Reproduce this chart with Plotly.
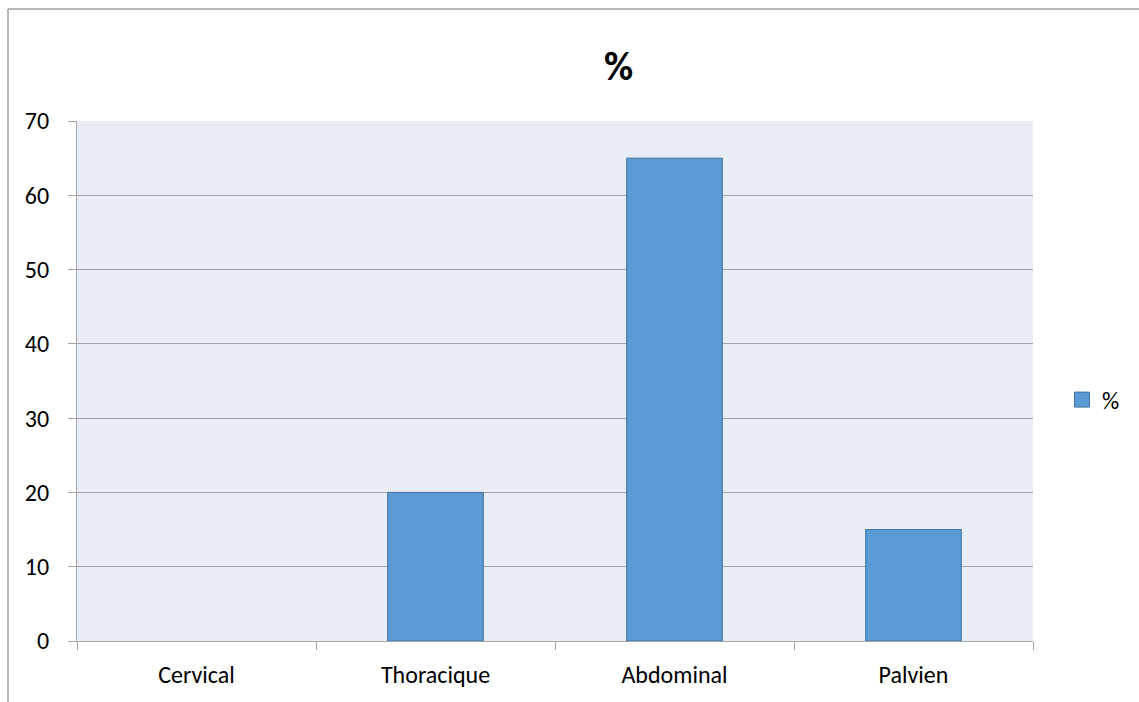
import plotly.graph_objects as go

# Data
categories = ["Cervical", "Thoracique", "Abdominal", "Palvien"]
values = [0, 20, 65, 15]
series_name = "%"
y_ticks = [0, 10, 20, 30, 40, 50, 60, 70]

W, H = 1139, 702
L, R, T, B = 77, 106, 121, 61
PW, PH = W - L - R, H - T - B

FONT = "Calibri, Carlito, Lato, sans-serif"
GRID = "#A6A6A6"
FS = 24
BAR_FILL = "#5B9BD5"
BAR_EDGE = "#41719C"


def px_x(px):
    return (px - L) / PW


def px_y(py):
    return (H - B - py) / PH


fig = go.Figure()
fig.add_trace(go.Bar(
    x=categories,
    y=values,
    name=series_name,
    width=0.4,
    marker=dict(
        color=BAR_FILL,
        line=dict(color=BAR_EDGE, width=[1 if v else 0 for v in values]),
    ),
    showlegend=False,
))
# legend key: larger square swatch for the series
fig.add_trace(go.Scatter(
    x=[None], y=[None], mode="markers", name=series_name,
    marker=dict(symbol="square", size=15, color=BAR_FILL,
                line=dict(color=BAR_EDGE, width=1)),
    showlegend=True, hoverinfo="skip",
))

fig.update_layout(
    width=W,
    height=H,
    margin=dict(l=L, r=R, t=T, b=B, pad=0),
    paper_bgcolor="white",
    plot_bgcolor="#E9EDF5",
    font=dict(family=FONT, size=FS, color="#000000"),
    showlegend=True,
    legend=dict(
        x=px_x(1062), y=px_y(400), xanchor="left", yanchor="middle",
        bgcolor="rgba(0,0,0,0)", font=dict(size=FS),
        itemwidth=30,
    ),
    xaxis=dict(
        type="category",
        range=[-0.5, 3.5],
        tickson="boundaries",
        ticks="outside",
        ticklen=8,
        tickcolor=GRID,
        showline=True,
        linecolor=GRID,
        linewidth=1,
        showgrid=False,
        zeroline=False,
        tickfont=dict(size=FS),
        ticklabelstandoff=12,
        fixedrange=True,
    ),
    yaxis=dict(
        range=[0, 70],
        tickvals=y_ticks,
        ticks="outside",
        ticklen=8,
        tickcolor=GRID,
        showline=True,
        linecolor=GRID,
        linewidth=1,
        showgrid=True,
        gridcolor=GRID,
        gridwidth=1,
        zeroline=False,
        tickfont=dict(size=FS),
        ticklabelstandoff=14,
        fixedrange=True,
    ),
    annotations=[dict(
        text="<b>%</b>", x=px_x(618), y=px_y(67), xref="paper", yref="paper",
        showarrow=False, xanchor="center", yanchor="middle",
        font=dict(size=40, family=FONT),
    )],
    shapes=[
        dict(type="line", xref="paper", yref="paper",
             x0=px_x(8), y0=px_y(9), x1=px_x(W + 5), y1=px_y(9),
             line=dict(color="#A0A0A0", width=1.5)),
        dict(type="line", xref="paper", yref="paper",
             x0=px_x(8), y0=px_y(9), x1=px_x(8), y1=px_y(H + 5),
             line=dict(color="#A0A0A0", width=1.5)),
    ],
)

fig.write_html("out.html")
